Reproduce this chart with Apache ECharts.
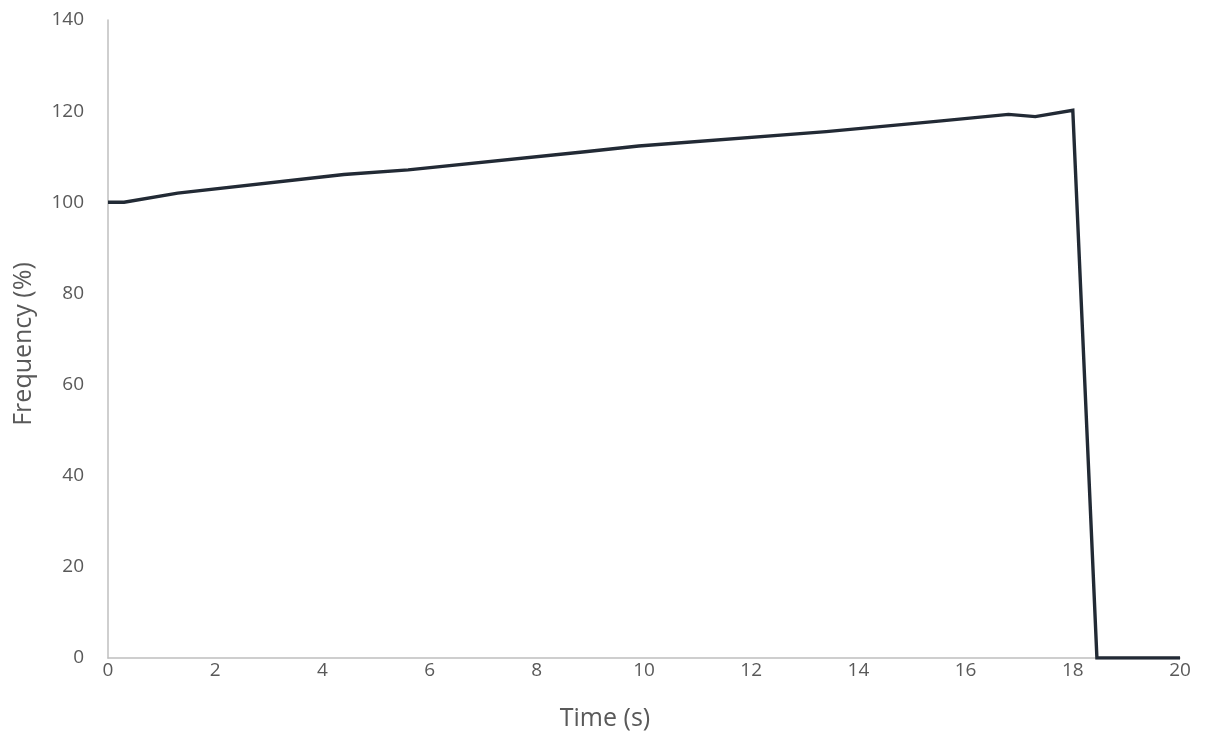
<!DOCTYPE html>
<html>
<head>
<meta charset="utf-8">
<script src="https://cdn.jsdelivr.net/npm/echarts@6/dist/echarts.min.js"></script>
<style>html,body{margin:0;padding:0;background:#fff;}#c{width:1209px;height:746px;}</style>
</head>
<body>
<div id="c"></div>
<script>
const timeS = [0, 0.3, 1.3, 4.4, 5.6, 8.9, 9.9, 13.4, 15.5, 16.8, 17.3, 18.0, 18.45, 20];
const frequencyPct = [100, 100, 102.0, 106.1, 107.1, 111.1, 112.35, 115.5, 117.8, 119.3, 118.8, 120.2, 0, 0];
const xTicks = [0, 2, 4, 6, 8, 10, 12, 14, 16, 18, 20];
const yTicks = [0, 20, 40, 60, 80, 100, 120, 140];

const chart = echarts.init(document.getElementById('c'), null, {renderer: 'canvas'});
const font = "'Open Sans', 'Liberation Sans', sans-serif";
chart.setOption({
  animation: false,
  grid: {left: 108, right: 29, top: 20, bottom: 88, containLabel: false},
  xAxis: {
    type: 'value', min: xTicks[0], max: xTicks[xTicks.length - 1], interval: 2,
    name: 'Time (s)', nameLocation: 'middle', nameGap: 48,
    nameTextStyle: {color: '#595959', fontSize: 25, fontFamily: font, padding: [0, 78, 0, 0]},
    axisLine: {show: true, lineStyle: {color: '#bfbfbf', width: 1.5}},
    axisTick: {show: false}, splitLine: {show: false},
    axisLabel: {color: '#595959', fontSize: 19, fontFamily: font, margin: 3}
  },
  yAxis: {
    type: 'value', min: yTicks[0], max: yTicks[yTicks.length - 1], interval: 20,
    name: 'Frequency (%)', nameLocation: 'middle', nameGap: 72,
    nameTextStyle: {color: '#595959', fontSize: 25, fontFamily: font, padding: [0, 10, 0, 0]},
    axisLine: {show: true, lineStyle: {color: '#bfbfbf', width: 1.5}},
    axisTick: {show: false}, splitLine: {show: false},
    axisLabel: {color: '#595959', fontSize: 19, fontFamily: font, margin: 24}
  },
  series: [{
    type: 'line',
    data: timeS.map((t, i) => [t, frequencyPct[i]]),
    showSymbol: false, symbol: 'none',
    lineStyle: {color: '#222a35', width: 3.4, join: 'miter'},
    itemStyle: {color: '#222a35'}
  }]
});
</script>
</body>
</html>
